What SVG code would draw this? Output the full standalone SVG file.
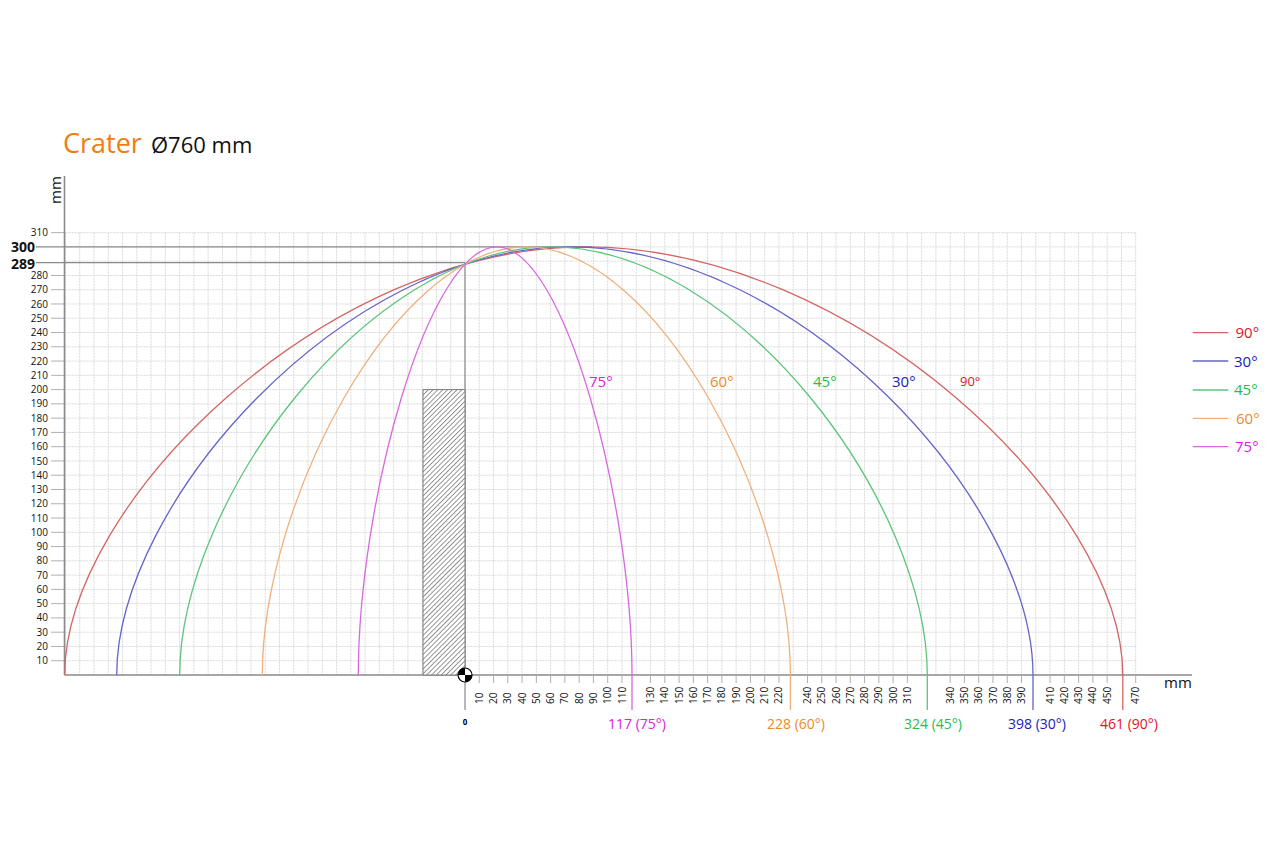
<svg xmlns="http://www.w3.org/2000/svg" width="1280" height="853" viewBox="0 0 1280 853">
<style>
text{font-family:"Open Sans","Liberation Sans",sans-serif;}
.grid{stroke:#d9d9d9;stroke-width:1;stroke-dasharray:2 1;fill:none}
.axis{stroke:#8a8a8a;stroke-width:1.6;fill:none}
.ref{stroke:#8a8a8a;stroke-width:1.2;fill:none}
.tick{stroke:#b0b0b0;stroke-width:1;fill:none}
.yl{font-size:10px;text-anchor:end;fill:#111}
.xl{font-size:10px;fill:#111}
.curve{fill:none;stroke-width:1.3}
.c90{stroke:#d46464}.c30{stroke:#6464c8}.c45{stroke:#5cc47c}.c60{stroke:#f0b07c}.c75{stroke:#d868e0}
.t90{fill:#e0141e}.t30{fill:#1a1ab4}.t45{fill:#20bf48}.t60{fill:#ee8a22}.t75{fill:#dc20dc}
.lab{font-size:15px}
.bl{font-size:14px}
</style>
<defs>
<pattern id="hatch" patternUnits="userSpaceOnUse" width="3.4" height="3.4" patternTransform="rotate(45)">
<rect width="3.4" height="3.4" fill="#fff"/>
<line x1="0" y1="0" x2="0" y2="3.4" stroke="#444" stroke-width="1.1"/>
</pattern>
</defs>
<rect width="1280" height="853" fill="#fff"/>

<g id="title">
<text x="63" y="153" font-size="27" fill="#ee7d12">Crater</text>
<text x="151" y="153" font-size="22" fill="#111">Ø760 mm</text>
</g>

<g id="grid">
<path class="grid" d="M65.44,232.63V675M79.71,232.63V675M93.98,232.63V675M108.25,232.63V675M122.52,232.63V675M136.79,232.63V675M151.06,232.63V675M165.33,232.63V675M179.6,232.63V675M193.87,232.63V675M208.14,232.63V675M222.41,232.63V675M236.68,232.63V675M250.95,232.63V675M265.22,232.63V675M279.49,232.63V675M293.76,232.63V675M308.03,232.63V675M322.3,232.63V675M336.57,232.63V675M350.84,232.63V675M365.11,232.63V675M379.38,232.63V675M393.65,232.63V675M407.92,232.63V675M422.19,232.63V675M436.46,232.63V675M450.73,232.63V675M465,232.63V675M479.27,232.63V675M493.54,232.63V675M507.81,232.63V675M522.08,232.63V675M536.35,232.63V675M550.62,232.63V675M564.89,232.63V675M579.16,232.63V675M593.43,232.63V675M607.7,232.63V675M621.97,232.63V675M636.24,232.63V675M650.51,232.63V675M664.78,232.63V675M679.05,232.63V675M693.32,232.63V675M707.59,232.63V675M721.86,232.63V675M736.13,232.63V675M750.4,232.63V675M764.67,232.63V675M778.94,232.63V675M793.21,232.63V675M807.48,232.63V675M821.75,232.63V675M836.02,232.63V675M850.29,232.63V675M864.56,232.63V675M878.83,232.63V675M893.1,232.63V675M907.37,232.63V675M921.64,232.63V675M935.91,232.63V675M950.18,232.63V675M964.45,232.63V675M978.72,232.63V675M992.99,232.63V675M1007.26,232.63V675M1021.53,232.63V675M1035.8,232.63V675M1050.07,232.63V675M1064.34,232.63V675M1078.61,232.63V675M1092.88,232.63V675M1107.15,232.63V675M1121.42,232.63V675M1135.69,232.63V675
M65.44,660.73H1135.69M65.44,646.46H1135.69M65.44,632.19H1135.69M65.44,617.92H1135.69M65.44,603.65H1135.69M65.44,589.38H1135.69M65.44,575.11H1135.69M65.44,560.84H1135.69M65.44,546.57H1135.69M65.44,532.3H1135.69M65.44,518.03H1135.69M65.44,503.76H1135.69M65.44,489.49H1135.69M65.44,475.22H1135.69M65.44,460.95H1135.69M65.44,446.68H1135.69M65.44,432.41H1135.69M65.44,418.14H1135.69M65.44,403.87H1135.69M65.44,389.6H1135.69M65.44,375.33H1135.69M65.44,361.06H1135.69M65.44,346.79H1135.69M65.44,332.52H1135.69M65.44,318.25H1135.69M65.44,303.98H1135.69M65.44,289.71H1135.69M65.44,275.44H1135.69M65.44,261.17H1135.69M65.44,246.9H1135.69M65.44,232.63H1135.69"/>
</g>

<g id="y-axis">
<path class="tick" d="M51,660.73H65M51,646.46H65M51,632.19H65M51,617.92H65M51,603.65H65M51,589.38H65M51,575.11H65M51,560.84H65M51,546.57H65M51,532.3H65M51,518.03H65M51,503.76H65M51,489.49H65M51,475.22H65M51,460.95H65M51,446.68H65M51,432.41H65M51,418.14H65M51,403.87H65M51,389.6H65M51,375.33H65M51,361.06H65M51,346.79H65M51,332.52H65M51,318.25H65M51,303.98H65M51,289.71H65M51,275.44H65M51,232.63H65"/>
<text class="yl" x="48" y="664.2">10</text>
<text class="yl" x="48" y="650">20</text>
<text class="yl" x="48" y="635.7">30</text>
<text class="yl" x="48" y="621.4">40</text>
<text class="yl" x="48" y="607.2">50</text>
<text class="yl" x="48" y="592.9">60</text>
<text class="yl" x="48" y="578.6">70</text>
<text class="yl" x="48" y="564.3">80</text>
<text class="yl" x="48" y="550.1">90</text>
<text class="yl" x="48" y="535.8">100</text>
<text class="yl" x="48" y="521.5">110</text>
<text class="yl" x="48" y="507.3">120</text>
<text class="yl" x="48" y="493">130</text>
<text class="yl" x="48" y="478.7">140</text>
<text class="yl" x="48" y="464.5">150</text>
<text class="yl" x="48" y="450.2">160</text>
<text class="yl" x="48" y="435.9">170</text>
<text class="yl" x="48" y="421.6">180</text>
<text class="yl" x="48" y="407.4">190</text>
<text class="yl" x="48" y="393.1">200</text>
<text class="yl" x="48" y="378.8">210</text>
<text class="yl" x="48" y="364.6">220</text>
<text class="yl" x="48" y="350.3">230</text>
<text class="yl" x="48" y="336">240</text>
<text class="yl" x="48" y="321.8">250</text>
<text class="yl" x="48" y="307.5">260</text>
<text class="yl" x="48" y="293.2">270</text>
<text class="yl" x="48" y="278.9">280</text>
<text class="yl" x="48" y="236.1">310</text>
<path class="ref" d="M36,246.9H592M36,262.6H465M465,262.6V710"/>
<text x="35" y="252" font-size="14" font-weight="bold" text-anchor="end" fill="#111">300</text>
<text x="35" y="268.5" font-size="14" font-weight="bold" text-anchor="end" fill="#111">289</text>
<path class="axis" d="M64.5,176V675"/>
<text transform="translate(61,190) rotate(-90)" font-size="15" text-anchor="middle" fill="#111">mm</text>
</g>

<g id="x-axis">
<path class="axis" d="M64.5,675H1192"/>
<text x="1164" y="688" font-size="15" fill="#111">mm</text>
<path class="tick" d="M479.27,675V683M493.54,675V683M507.81,675V683M522.08,675V683M536.35,675V683M550.62,675V683M564.89,675V683M579.16,675V683M593.43,675V683M607.7,675V683M621.97,675V683M650.51,675V683M664.78,675V683M679.05,675V683M693.32,675V683M707.59,675V683M721.86,675V683M736.13,675V683M750.4,675V683M764.67,675V683M778.94,675V683M807.48,675V683M821.75,675V683M836.02,675V683M850.29,675V683M864.56,675V683M878.83,675V683M893.1,675V683M907.37,675V683M950.18,675V683M964.45,675V683M978.72,675V683M992.99,675V683M1007.26,675V683M1021.53,675V683M1050.07,675V683M1064.34,675V683M1078.61,675V683M1092.88,675V683M1107.15,675V683M1135.69,675V683"/>
<text class="xl" transform="translate(482.8,704) rotate(-90)">10</text>
<text class="xl" transform="translate(497,704) rotate(-90)">20</text>
<text class="xl" transform="translate(511.3,704) rotate(-90)">30</text>
<text class="xl" transform="translate(525.6,704) rotate(-90)">40</text>
<text class="xl" transform="translate(539.9,704) rotate(-90)">50</text>
<text class="xl" transform="translate(554.1,704) rotate(-90)">60</text>
<text class="xl" transform="translate(568.4,704) rotate(-90)">70</text>
<text class="xl" transform="translate(582.7,704) rotate(-90)">80</text>
<text class="xl" transform="translate(596.9,704) rotate(-90)">90</text>
<text class="xl" transform="translate(611.2,704) rotate(-90)">100</text>
<text class="xl" transform="translate(625.5,704) rotate(-90)">110</text>
<text class="xl" transform="translate(654,704) rotate(-90)">130</text>
<text class="xl" transform="translate(668.3,704) rotate(-90)">140</text>
<text class="xl" transform="translate(682.6,704) rotate(-90)">150</text>
<text class="xl" transform="translate(696.8,704) rotate(-90)">160</text>
<text class="xl" transform="translate(711.1,704) rotate(-90)">170</text>
<text class="xl" transform="translate(725.4,704) rotate(-90)">180</text>
<text class="xl" transform="translate(739.6,704) rotate(-90)">190</text>
<text class="xl" transform="translate(753.9,704) rotate(-90)">200</text>
<text class="xl" transform="translate(768.2,704) rotate(-90)">210</text>
<text class="xl" transform="translate(782.4,704) rotate(-90)">220</text>
<text class="xl" transform="translate(811,704) rotate(-90)">240</text>
<text class="xl" transform="translate(825.3,704) rotate(-90)">250</text>
<text class="xl" transform="translate(839.5,704) rotate(-90)">260</text>
<text class="xl" transform="translate(853.8,704) rotate(-90)">270</text>
<text class="xl" transform="translate(868.1,704) rotate(-90)">280</text>
<text class="xl" transform="translate(882.3,704) rotate(-90)">290</text>
<text class="xl" transform="translate(896.6,704) rotate(-90)">300</text>
<text class="xl" transform="translate(910.9,704) rotate(-90)">310</text>
<text class="xl" transform="translate(953.7,704) rotate(-90)">340</text>
<text class="xl" transform="translate(968,704) rotate(-90)">350</text>
<text class="xl" transform="translate(982.2,704) rotate(-90)">360</text>
<text class="xl" transform="translate(996.5,704) rotate(-90)">370</text>
<text class="xl" transform="translate(1010.8,704) rotate(-90)">380</text>
<text class="xl" transform="translate(1025,704) rotate(-90)">390</text>
<text class="xl" transform="translate(1053.6,704) rotate(-90)">410</text>
<text class="xl" transform="translate(1067.8,704) rotate(-90)">420</text>
<text class="xl" transform="translate(1082.1,704) rotate(-90)">430</text>
<text class="xl" transform="translate(1096.4,704) rotate(-90)">440</text>
<text class="xl" transform="translate(1110.7,704) rotate(-90)">450</text>
<text class="xl" transform="translate(1139.2,704) rotate(-90)">470</text>
<text x="465" y="725" font-size="8" font-weight="bold" text-anchor="middle" fill="#000">0</text>
</g>

<g id="footprint">
<rect x="423" y="389.6" width="42" height="285.4" fill="url(#hatch)" stroke="#7a7a7a" stroke-width="1"/>
</g>

<g id="origin">
<circle cx="465" cy="675" r="7" fill="#fff" stroke="#000" stroke-width="1.2"/>
<path d="M465,675V668A7,7 0 0 0 458,675Z" fill="#000"/>
<path d="M465,675V682A7,7 0 0 0 472,675Z" fill="#000"/>
</g>

<g id="curves">
<path class="curve c90" d="M64.7,675C64.7,503.8 325,246.9 585.4,246.9C854.1,246.9 1122.8,503.8 1122.8,675V710"/>
<path class="curve c30" d="M116.7,675C116.7,503.8 343.2,246.9 569.7,246.9C801.4,246.9 1033,503.8 1033,675V710"/>
<path class="curve c45" d="M179.7,675C179.7,503.8 365.3,246.9 550.9,246.9C739.1,246.9 927.3,503.8 927.3,675V710"/>
<path class="curve c60" d="M262.3,675C262.3,503.8 394.1,246.9 525.9,246.9C658.2,246.9 790.4,503.8 790.4,675V710"/>
<path class="curve c75" d="M358.3,675C358.3,503.8 427.7,246.9 497.1,246.9C564.6,246.9 632,503.8 632,675V710"/>
</g>

<g id="curve-labels">
<text class="lab t75" x="589" y="387">75°</text>
<text class="lab t60" x="710" y="387">60°</text>
<text class="lab t45" x="813" y="387">45°</text>
<text class="lab t30" x="892" y="387">30°</text>
<text class="t90" x="960" y="386" font-size="13">90°</text>
</g>

<g id="landing-labels">
<text class="bl t75" x="608" y="729">117 (75°)</text>
<text class="bl t60" x="767" y="729">228 (60°)</text>
<text class="bl t45" x="904" y="729">324 (45°)</text>
<text class="bl t30" x="1008" y="729">398 (30°)</text>
<text class="bl t90" x="1100" y="729">461 (90°)</text>
</g>

<g id="legend">
<path class="curve c90" d="M1192.7,332.7H1228.3"/>
<path class="curve c30" d="M1192.7,361H1228.3"/>
<path class="curve c45" d="M1192.7,390H1228.3"/>
<path class="curve c60" d="M1192.7,418.3H1228.3"/>
<path class="curve c75" d="M1192.7,446.7H1228.3"/>
<text class="lab t90" x="1235.5" y="338">90°</text>
<text class="lab t30" x="1234" y="366.5">30°</text>
<text class="lab t45" x="1234" y="395">45°</text>
<text class="lab t60" x="1236" y="424">60°</text>
<text class="lab t75" x="1235" y="452">75°</text>
</g>
</svg>
